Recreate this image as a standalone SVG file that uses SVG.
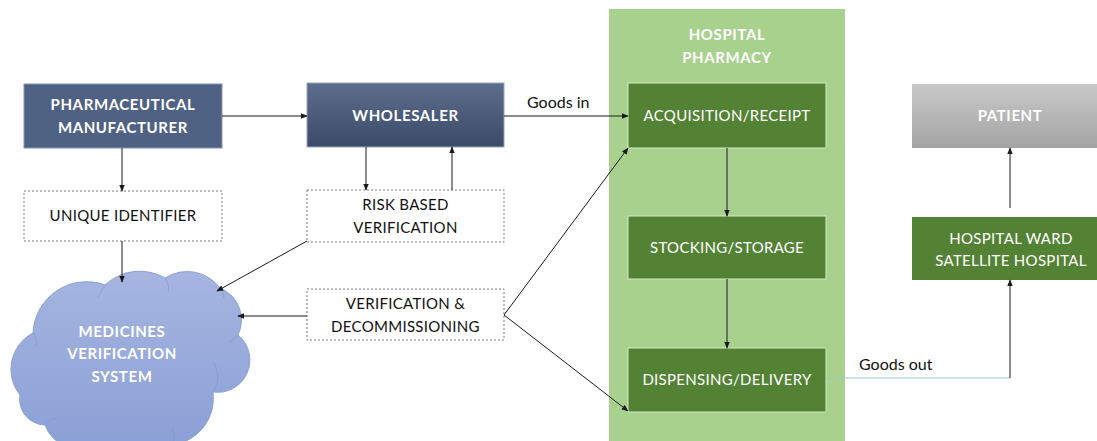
<svg xmlns="http://www.w3.org/2000/svg" width="1097" height="441" viewBox="0 0 1097 441">
  <style>
    .hdr { font-family: Lato, "Open Sans", sans-serif; font-weight: 700; font-size: 15px; fill: #ffffff; text-anchor: middle; letter-spacing: 0.6px; }
    .lbl { font-family: Lato, "Open Sans", sans-serif; font-size: 15px; fill: #ffffff; text-anchor: middle; letter-spacing: 0.3px; }
    .dlbl { font-family: Lato, "Open Sans", sans-serif; font-size: 15px; fill: #111111; text-anchor: middle; letter-spacing: 0.3px; }
    .flow { font-family: Lato, "Open Sans", sans-serif; font-size: 16px; fill: #111111; }
    .dash { fill: #ffffff; stroke: #7a7a7a; stroke-width: 1; stroke-dasharray: 2 2; }
    .green { fill: #548235; stroke: #d6e8c8; stroke-width: 1; }
    .edge { fill: none; stroke: #1a1a1a; stroke-width: 1; marker-end: url(#arrow); }
  </style>
  <defs>
    <marker id="arrow" viewBox="0 0 10 10" refX="9" refY="5" markerWidth="7" markerHeight="7" markerUnits="userSpaceOnUse" orient="auto">
      <path d="M0,1 L10,5 L0,9 Z" fill="#1a1a1a"/>
    </marker>
    <linearGradient id="gWhole" x1="0" y1="0" x2="0" y2="1">
      <stop offset="0" stop-color="#5d6d8c"/>
      <stop offset="1" stop-color="#3a4a68"/>
    </linearGradient>
    <linearGradient id="gPatient" x1="0" y1="0" x2="0" y2="1">
      <stop offset="0" stop-color="#c9c9c9"/>
      <stop offset="1" stop-color="#a3a3a3"/>
    </linearGradient>
    <linearGradient id="gCloud" x1="0" y1="0" x2="0" y2="1">
      <stop offset="0" stop-color="#a6b5e0"/>
      <stop offset="1" stop-color="#8a9fd6"/>
    </linearGradient>
  </defs>

  <rect width="1097" height="441" fill="#ffffff"/>

  <!-- hospital pharmacy column -->
  <g id="hospital-pharmacy">
    <rect x="609" y="9" width="236" height="432" fill="#a9d18e"/>
    <text class="hdr" x="727" y="40">HOSPITAL</text>
    <text class="hdr" x="727" y="63">PHARMACY</text>
  </g>

  <g id="manufacturer">
    <rect x="24" y="84" width="198" height="64" fill="#4f6283" stroke="#8596b2" stroke-width="1"/>
    <text class="hdr" x="123" y="110">PHARMACEUTICAL</text>
    <text class="hdr" x="123" y="133">MANUFACTURER</text>
  </g>

  <g id="wholesaler">
    <rect x="307" y="83" width="197" height="64" fill="url(#gWhole)" stroke="#9aa6bb" stroke-width="1"/>
    <text class="hdr" x="405.5" y="121">WHOLESALER</text>
  </g>

  <g id="unique-identifier">
    <rect class="dash" x="24" y="191" width="198" height="50"/>
    <text class="dlbl" x="123" y="221">UNIQUE IDENTIFIER</text>
  </g>

  <g id="risk-based-verification">
    <rect class="dash" x="307" y="190" width="197" height="52"/>
    <text class="dlbl" x="405.5" y="210">RISK BASED</text>
    <text class="dlbl" x="405.5" y="233">VERIFICATION</text>
  </g>

  <g id="verification-decommissioning">
    <rect class="dash" x="307" y="289" width="197" height="51"/>
    <text class="dlbl" x="405.5" y="309">VERIFICATION &amp;</text>
    <text class="dlbl" x="405.5" y="332">DECOMMISSIONING</text>
  </g>

  <g id="medicines-verification-system">
    <path d="M20,395 A41,41 0 0 1 33,333 A53.6,53.6 0 0 1 105,285 A50.6,50.6 0 0 1 165,278 A40.9,40.9 0 0 1 220,288 A34.4,34.4 0 0 1 238,335 A32.3,32.3 0 0 1 213,392 A47,47 0 0 1 172,445 A96.6,96.6 0 0 1 95,445 A36,36 0 0 1 45,425 A25.6,25.6 0 0 1 20,395 Z" fill="url(#gCloud)" stroke="#8ea2d6" stroke-width="1"/>
    <g fill="none" stroke="#7f94cc" stroke-width="0.8" opacity="0.7">
      <path d="M33,333 Q38,340 36,346"/>
      <path d="M105,285 Q100,292 98,298"/>
      <path d="M165,278 Q170,286 168,292"/>
      <path d="M220,288 Q224,292 224,298"/>
      <path d="M238,335 Q234,340 230,342"/>
      <path d="M213,392 Q222,380 214,362"/>
      <path d="M45,425 Q48,420 56,418"/>
      <path d="M172,445 Q176,436 172,428"/>
    </g>
    <text class="hdr" x="122" y="337" letter-spacing="0">MEDICINES</text>
    <text class="hdr" x="122" y="359" letter-spacing="0">VERIFICATION</text>
    <text class="hdr" x="122" y="382" letter-spacing="0">SYSTEM</text>
  </g>

  <g id="acquisition-receipt">
    <rect class="green" x="628" y="83" width="198" height="65"/>
    <text class="lbl" x="727" y="121">ACQUISITION/RECEIPT</text>
  </g>

  <g id="stocking-storage">
    <rect class="green" x="628" y="216" width="198" height="63"/>
    <text class="lbl" x="727" y="253">STOCKING/STORAGE</text>
  </g>

  <g id="dispensing-delivery">
    <rect class="green" x="628" y="348" width="198" height="64"/>
    <text class="lbl" x="727" y="385">DISPENSING/DELIVERY</text>
  </g>

  <g id="patient">
    <rect x="912" y="84" width="190" height="64" fill="url(#gPatient)"/>
    <text class="hdr" x="1010" y="121">PATIENT</text>
  </g>

  <g id="hospital-ward">
    <rect x="912" y="217" width="190" height="63" fill="#548235"/>
    <text class="lbl" x="1011" y="244">HOSPITAL WARD</text>
    <text class="lbl" x="1011" y="266">SATELLITE HOSPITAL</text>
  </g>

  <g id="connectors">
    <path class="edge" d="M222,116 L307,116"/>
    <path class="edge" d="M504,116 L628,116"/>
    <text class="flow" x="527" y="108">Goods in</text>
    <path class="edge" d="M122,148 L122,191"/>
    <path class="edge" d="M122,241 L122,282"/>
    <path class="edge" d="M366,147 L366,190"/>
    <path class="edge" d="M452,190 L452,147"/>
    <path class="edge" d="M307,241 L217,291"/>
    <path class="edge" d="M307,316 L238,316"/>
    <path class="edge" d="M504,315 L628,148"/>
    <path class="edge" d="M504,315 L628,411"/>
    <path class="edge" d="M727,148 L727,216"/>
    <path class="edge" d="M727,279 L727,348"/>
    <path d="M826,378 L1010,378" fill="none" stroke="#9ec6c6" stroke-width="1"/>
    <path class="edge" d="M1010,378 L1010,280"/>
    <text class="flow" x="859" y="370">Goods out</text>
    <path class="edge" d="M1010,208 L1010,148"/>
  </g>
</svg>
